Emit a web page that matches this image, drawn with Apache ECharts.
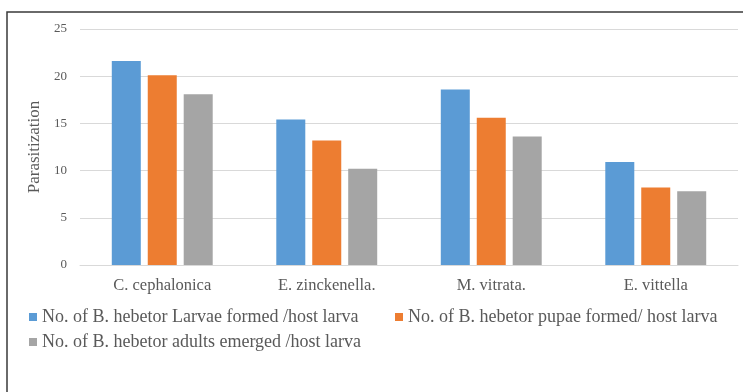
<!DOCTYPE html>
<html>
<head>
    <meta charset="utf-8">
    <script src="https://cdn.jsdelivr.net/npm/echarts@6/dist/echarts.min.js"></script>
    <style>
        html, body { margin: 0; padding: 0; background: #fff; }
        #main { width: 743px; height: 392px; }
    </style>
</head>
<body>
    <div id="main"></div>
    <script type="text/javascript">
        var hosts = ['C. cephalonica', 'E. zinckenella.', 'M. vitrata.', 'E. vittella'];
        var larvae = [21.6, 15.4, 18.6, 10.9];
        var pupae = [20.1, 13.2, 15.6, 8.2];
        var adults = [18.1, 10.2, 13.6, 7.8];
        var seriesNames = [
            'No. of B. hebetor Larvae formed /host larva',
            'No. of B. hebetor pupae formed/ host larva',
            'No. of B. hebetor adults emerged /host larva'
        ];
        var colors = ['#5B9BD5', '#ED7D31', '#A5A5A5'];

        var font = '"Liberation Serif", "Times New Roman", serif';
        var myChart = echarts.init(document.getElementById('main'));

        function legendAt(name, left, top) {
            return {
                data: [name],
                left: left,
                top: top,
                itemWidth: 8,
                itemHeight: 8,
                icon: 'rect',
                textStyle: { fontFamily: font, fontSize: 18, color: '#595959' }
            };
        }

        var seriesList = [larvae, pupae, adults].map(function (vals, i) {
            return {
                name: seriesNames[i],
                type: 'bar',
                data: vals,
                barWidth: 29,
                barGap: '24%',
                itemStyle: { color: colors[i] }
            };
        });

        myChart.setOption({
            animation: false,
            color: colors,
            grid: { left: 80, right: 5, top: 29, bottom: 127 },
            legend: [
                legendAt(seriesNames[0], 24, 303),
                legendAt(seriesNames[1], 390, 303),
                legendAt(seriesNames[2], 24, 328)
            ],
            graphic: [{
                type: 'rect',
                shape: { x: 7, y: 12, width: 800, height: 500 },
                style: { fill: 'none', stroke: '#3a3a3a', lineWidth: 1.5 },
                silent: true
            }],
            xAxis: {
                type: 'category',
                data: hosts,
                axisLine: { lineStyle: { color: '#d9d9d9' } },
                axisTick: { show: false },
                axisLabel: { fontFamily: font, fontSize: 16.5, color: '#595959', margin: 12 }
            },
            yAxis: {
                type: 'value',
                min: 0,
                max: 25,
                interval: 5,
                name: 'Parasitization',
                nameLocation: 'middle',
                nameGap: 33,
                nameTextStyle: { fontFamily: font, fontSize: 17, color: '#595959' },
                axisLabel: { fontFamily: font, fontSize: 13, color: '#595959', margin: 13 },
                splitLine: { lineStyle: { color: '#d9d9d9' } }
            },
            series: seriesList
        });
    </script>
</body>
</html>
